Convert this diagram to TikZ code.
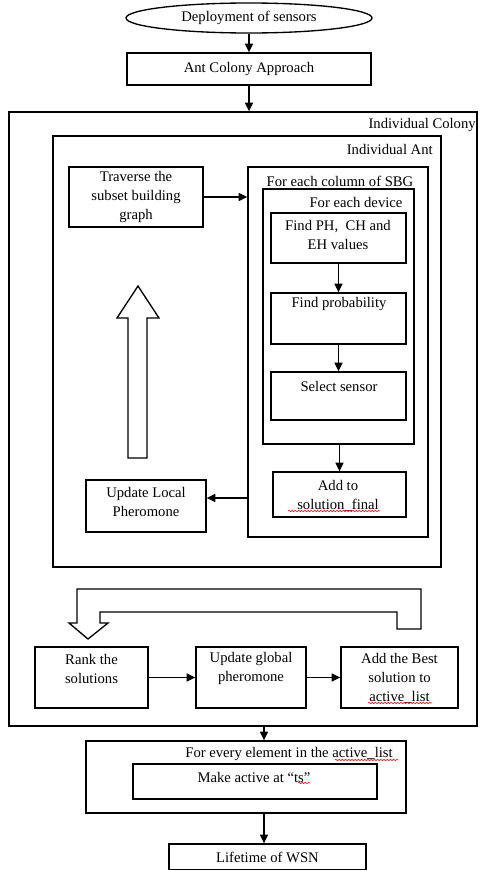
\documentclass[tikz,border=0pt]{standalone}
\usepackage{fontspec}
\setmainfont{Liberation Serif}
\usetikzlibrary{arrows.meta,fit,shapes.geometric,decorations.pathmorphing}
\newcommand\myfs{\fontsize{11}{14.25}\selectfont}
\tikzset{
  box/.style={draw, line width=1pt, inner sep=0pt},
  lbl/.style={align=center, inner sep=0pt, font=\myfs},
  arr/.style={line width=1pt, -{Triangle[length=6.5pt,width=6pt]}},
  hollow/.style={draw, line width=1pt, fill=white, line join=miter},
  squig/.style={red, line width=0.4pt, decorate, decoration={snake, amplitude=0.6pt, segment length=2.4pt}}
}
\begin{document}
\begin{tikzpicture}[x=0.75pt,y=-0.75pt]
\useasboundingbox (0,0) rectangle (480,871);

% top
\node[draw, ellipse, line width=1pt, minimum width=184.5pt, minimum height=22.5pt, inner sep=0pt, font=\myfs] (deploy) at (249,18) {Deployment of sensors};
\node[box, fit={(127,53) (371,85)}] (acp) {};
\node[lbl] (acpt) at (acp.center) {Ant Colony Approach};

% containers
\node[box, fit={(9,112) (477,726)}] (colony) {};
\node[lbl, anchor=east] (colonyt) at (476,125) {Individual Colony};
\node[box, fit={(53,136) (441,567)}] (ant) {};
\node[lbl, anchor=east] (antt) at (433,149) {Individual Ant};
\node[box, fit={(248,167) (428,537)}] (sbg) {};
\node[lbl] (sbgt) at (340,181) {For each column of SBG};
\node[box, fit={(263,189) (414,444)}] (device) {};
\node[lbl] (devicet) at (356,202) {For each device};

% inner boxes
\node[box, fit={(271,213) (406,263)}] (findph) {};
\node[lbl] (findpht) at (338,235) {Find PH,\ \ CH and\\EH values};
\node[box, fit={(271,293) (406,344)}] (findprob) {};
\node[lbl] (findprobt) at (339,304) {Find probability};
\node[box, fit={(271,372) (406,420)}] (select) {};
\node[lbl] (selectt) at (339,386) {Select sensor};
\node[box, fit={(273,472) (406,517)}] (add) {};
\node[lbl] (addt) at (338,495.5) {Add to\\solution\_final};
\node[box, fit={(69,167) (203,227)}] (trav) {};
\node[lbl] (travt) at (136,197) {Traverse the\\subset building\\graph};
\node[box, fit={(86,480) (206,532)}] (updlocal) {};
\node[lbl] (updlocalt) at (146,502) {Update Local\\Pheromone};

% hollow up arrow
\draw[hollow] (128,458) -- (128,318) -- (117,318) -- (138,286) -- (159,318) -- (147,318) -- (147,458) -- cycle;

% hollow U arrow
\draw[hollow] (397,629) -- (397,612) -- (100,612) -- (100,623) -- (108,623) -- (88,639) -- (69,623) -- (77,623) -- (77,589) -- (421,589) -- (421,629) -- cycle;

% bottom row
\node[box, fit={(35,647) (148,708)}] (rank) {};
\node[lbl] (rankt) at (91.5,668.5) {Rank the\\solutions};
\node[box, fit={(196,647) (306,708)}] (updglobal) {};
\node[lbl] (updglobalt) at (251,668.5) {Update global\\pheromone};
\node[box, fit={(341,647) (458,708)}] (addbest) {};
\node[lbl] (addbestt) at (399.5,678) {Add the Best\\solution to\\active\_list};

% final part
\node[box, fit={(86,741) (406,813)}] (forevery) {};
\node[lbl] (foreveryt) at (289,754) {For every element in the active\_list};
\node[box, fit={(133,764) (377,799)}] (makeactive) {};
\node[lbl] (makeactivet) at (254,777) {Make active at ``ts''};
\node[box, fit={(169,844) (366,869.5)}] (lifetime) {};
\node[lbl] (lifetimet) at (267.5,857) {Lifetime of WSN};

% spell-check squiggles
\draw[squig] (288,511) -- (380,511);
\draw[squig] (368,703) -- (432,703);
\draw[squig] (335,760) -- (398,760);
\draw[squig] (298,783) -- (310,783);

% connectors
\draw[arr] (deploy.south) -- (acp.north);
\draw[arr] (acp.south) -- (acp.south |- colony.north);
\draw[arr] (trav.east) -- (trav.east -| sbg.west);
\draw[arr] (findph.south) -- (findprob.north);
\draw[arr] (findprob.south) -- (select.north);
\draw[arr] (device.south -| add.north) -- (add.north);
\coordinate (ly) at (0,498);
\draw[arr] (sbg.west |- ly) -- (updlocal.east |- ly);
\draw[arr] (rank.east) -- (updglobal.west);
\draw[arr] (updglobal.east) -- (addbest.west);
\coordinate (ax) at (264,0);
\draw[arr] (colony.south -| ax) -- (forevery.north -| ax);
\draw[arr] (forevery.south -| ax) -- (lifetime.north -| ax);
\end{tikzpicture}
\end{document}
